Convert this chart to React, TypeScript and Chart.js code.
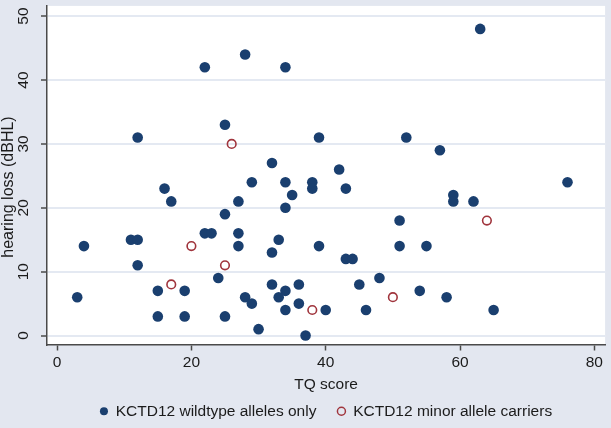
import React, { useEffect, useRef } from "react";
import { Chart, registerables } from "chart.js";

Chart.register(...registerables);

// TQ score (x) and hearing loss (y) — KCTD12 wildtype alleles only
const wildX = [3, 4, 11, 12, 12, 12, 15, 15, 16, 17, 19, 19, 22, 22, 23, 24, 25, 25, 25, 27, 27, 27, 28, 28, 29, 29, 30, 32, 32, 32, 33, 33, 34, 34, 34, 34, 34, 35, 36, 36, 37, 38, 38, 39, 39, 40, 42, 43, 43, 44, 45, 46, 48, 51, 51, 52, 54, 55, 57, 58, 59, 59, 62, 63, 65, 76];
const wildY = [6, 14, 15, 15, 31, 11, 7, 3, 23, 21, 7, 3, 42, 16, 16, 9, 33, 19, 3, 21, 16, 14, 44, 6, 24, 5, 1, 27, 13, 8, 15, 6, 42, 24, 20, 7, 4, 22, 8, 5, 0, 24, 23, 31, 14, 4, 26, 23, 12, 12, 8, 4, 9, 18, 14, 31, 7, 14, 29, 6, 22, 21, 21, 48, 4, 24];

// KCTD12 minor allele carriers
const minorX = [17, 20, 25, 26, 38, 50, 64];
const minorY = [8, 14, 11, 30, 4, 6, 18];

const xTicks = [0, 20, 40, 60, 80];
const yTicks = [0, 10, 20, 30, 40, 50];

const seriesLabels = ["KCTD12 wildtype alleles only", "KCTD12 minor allele carriers"];
const xTitle = "TQ score";
const yTitle = "hearing loss (dBHL)";

const NAVY = "#1a3f6f";
const MAROON = "#a0353d";
const BG = "#e3e7f0";
const TEXT = "#1b1b1b";
const AXIS = "#4a4a4a";
const FONT = "'Liberation Sans', Arial, Helvetica, sans-serif";

export default function App() {
  const ref = useRef<HTMLCanvasElement | null>(null);

  useEffect(() => {
    document.body.style.margin = "0";
    document.body.style.background = BG;
    const canvas = ref.current;
    if (!canvas) return;

    const chart = new Chart(canvas, {
      type: "scatter",
      data: {
        datasets: [
          {
            label: seriesLabels[0],
            data: wildX.map((x, i) => ({ x, y: wildY[i] })),
            backgroundColor: NAVY,
            borderColor: NAVY,
            borderWidth: 0,
            pointRadius: 5.3,
            pointStyle: "circle",
          },
          {
            label: seriesLabels[1],
            data: minorX.map((x, i) => ({ x, y: minorY[i] })),
            backgroundColor: "rgba(0,0,0,0)",
            borderColor: MAROON,
            borderWidth: 1.6,
            pointRadius: 4.3,
            pointStyle: "circle",
          },
        ],
      },
      options: {
        animation: false,
        responsive: false,
        maintainAspectRatio: false,
        layout: { padding: { top: 1, right: 3, left: 0, bottom: -1 } },
        plugins: {
          tooltip: { enabled: false },
          legend: {
            position: "bottom",
            fullSize: false,
            labels: {
              usePointStyle: true,
              boxWidth: 8,
              boxHeight: 5.66,
              padding: 21,
              color: TEXT,
              font: { family: FONT, size: 15.5 },
              generateLabels: (c: any) =>
                c.data.datasets.map((ds: any, i: number) => ({
                  text: ds.label,
                  fillStyle: i === 0 ? NAVY : "rgba(0,0,0,0)",
                  strokeStyle: i === 0 ? NAVY : MAROON,
                  lineWidth: i === 0 ? 0 : 1.5,
                  pointStyle: "circle",
                  hidden: false,
                  datasetIndex: i,
                  fontColor: TEXT,
                })),
            },
          },
        },
        scales: {
          x: {
            type: "linear",
            min: -1.5,
            max: 81.6,
            afterBuildTicks: (axis: any) => {
              axis.ticks = xTicks.map((v) => ({ value: v }));
            },
            afterFit: (axis: any) => {
              axis.height = 38;
              axis.paddingLeft = 0;
              axis.paddingRight = 0;
            },
            border: { display: true, color: AXIS, width: 1.5 },
            grid: {
              drawOnChartArea: false,
              drawTicks: true,
              tickLength: 6,
              tickColor: AXIS,
              tickWidth: 1.5,
            },
            ticks: {
              color: TEXT,
              padding: 3,
              maxRotation: 0,
              font: { family: FONT, size: 15.5 },
            },
            title: {
              display: true,
              text: xTitle,
              color: TEXT,
              padding: { top: 0, bottom: -12 },
              font: { family: FONT, size: 15.5 },
            },
          },
          y: {
            type: "linear",
            min: -1.4,
            max: 51.6,
            afterBuildTicks: (axis: any) => {
              axis.ticks = yTicks.map((v) => ({ value: v }));
            },
            afterFit: (axis: any) => {
              axis.width = 47;
              axis.paddingTop = 0;
              axis.paddingBottom = 0;
            },
            border: { display: true, color: AXIS, width: 1.5 },
            grid: {
              color: "#e4e9f2",
              lineWidth: 2,
              drawTicks: true,
              tickLength: 6,
              tickColor: AXIS,
              tickWidth: 1.5,
            },
            ticks: {
              color: TEXT,
              padding: 9,
              minRotation: 90,
              maxRotation: 90,
              crossAlign: "center",
              font: { family: FONT, size: 15.5 },
            },
            title: { display: false },
          },
        },
      },
      plugins: [
        {
          id: "bgfill",
          beforeDraw: (c: any) => {
            const { ctx, chartArea } = c;
            ctx.save();
            ctx.fillStyle = BG;
            ctx.fillRect(0, 0, c.width, c.height);
            ctx.fillStyle = "#ffffff";
            ctx.fillRect(chartArea.left, chartArea.top, chartArea.right - chartArea.left, chartArea.bottom - chartArea.top);
            ctx.restore();
          },
        },
        {
          id: "ytitle",
          afterDraw: (c: any) => {
            const { ctx } = c;
            ctx.save();
            ctx.translate(8.5, 187);
            ctx.rotate(-Math.PI / 2);
            ctx.font = `16px ${FONT}`;
            ctx.fillStyle = TEXT;
            ctx.textAlign = "center";
            ctx.textBaseline = "middle";
            ctx.fillText(yTitle, 0, 0);
            ctx.restore();
          },
        },
      ],
    });

    return () => chart.destroy();
  }, []);

  return (
    <div style={{ width: 611, height: 428, background: BG }}>
      <canvas ref={ref} width={611} height={428} style={{ display: "block", width: 611, height: 428 }} />
    </div>
  );
}
